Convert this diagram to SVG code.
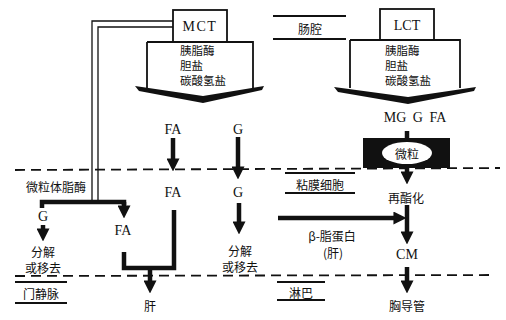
<svg xmlns="http://www.w3.org/2000/svg" width="506" height="320" viewBox="0 0 506 320">
<style>
text{font-family:"Liberation Serif","Noto Sans CJK SC",serif;fill:#111;text-anchor:middle;dominant-baseline:central}
.zh{font-family:"Noto Sans CJK SC","Liberation Serif",sans-serif;font-size:12px}
.st{font-size:11.5px;text-anchor:start}
.lt{font-size:14px}
.box{fill:#fff;stroke:#111;stroke-width:1.8}
.thin{stroke:#111;stroke-width:1.3;fill:none}
.rule{stroke:#111;stroke-width:1.8}
.dash{stroke:#111;stroke-width:1.8;stroke-dasharray:10 6}
.thick{stroke:#111;stroke-width:4.5;fill:none}
.arr{stroke:#111;stroke-width:4.5;fill:none;marker-end:url(#ah)}
</style>
<defs>
<marker id="ah" markerUnits="userSpaceOnUse" markerWidth="13" markerHeight="13" viewBox="0 0 12 12" refX="0.5" refY="6" orient="auto"><path d="M0,0 L12,6 L0,12 Z" fill="#111"/></marker>
</defs>

<g id="boundaries">
<line class="dash" x1="15" y1="170" x2="500" y2="168"/>
<line class="dash" x1="15" y1="276" x2="495" y2="275"/>
</g>

<g id="label-changqiang">
<line class="rule" x1="273" y1="16" x2="346" y2="16"/>
<text class="zh" x="310" y="28">肠腔</text>
<line class="rule" x1="273" y1="39" x2="346" y2="39"/>
</g>

<g id="label-nianmo">
<line class="rule" x1="285" y1="173" x2="355" y2="173"/>
<text class="zh" x="320" y="184">粘膜细胞</text>
<line class="rule" x1="285" y1="193" x2="355" y2="193"/>
</g>

<g id="label-menjingmai">
<line class="rule" x1="15" y1="282" x2="67" y2="282"/>
<text class="zh" x="41" y="293">门静脉</text>
<line class="rule" x1="15" y1="303" x2="67" y2="303"/>
</g>

<g id="label-linba">
<line class="rule" x1="277" y1="282" x2="325" y2="282"/>
<text class="zh" x="301" y="292">淋巴</text>
<line class="rule" x1="277" y1="300" x2="325" y2="300"/>
</g>

<g id="connectors">
<path class="thin" d="M174,21 H92 V200"/>
<path class="thin" d="M174,27 H98 V200"/>
<path class="thick" d="M42,208 V202 H124 V205"/>
<path class="arr" d="M124,202 V206"/>
<line class="arr" x1="173" y1="138" x2="173" y2="159"/>
<line class="arr" x1="238" y1="137" x2="238" y2="167"/>
<line class="arr" x1="43" y1="225" x2="43" y2="229"/>
<path class="thick" d="M174,210 V268 H124 V252"/>
<line class="arr" x1="150" y1="268" x2="150" y2="281"/>
<line class="arr" x1="239" y1="203" x2="239" y2="222"/>
<line class="thick" x1="407" y1="131" x2="407" y2="139"/>
<line class="arr" x1="407" y1="167" x2="407" y2="172"/>
<line class="arr" x1="407" y1="205" x2="407" y2="232"/>
<line class="arr" x1="278" y1="218" x2="394" y2="218"/>
<line class="arr" x1="407" y1="267" x2="407" y2="281"/>
</g>

<g id="mct">
<rect class="box" x="173" y="10" width="54" height="32"/>
<text class="lt" x="200" y="26" letter-spacing="1.5">MCT</text>
</g>

<g id="mct-enzymes">
<path class="box" d="M147,42 H253 V88 M147,42 V88"/>
<path d="M135,86 L203,96 L264,86 L262,90 L203,103 L139,91 Z" fill="#111"/>
<text class="zh st" x="180" y="50">胰脂酶</text>
<text class="zh st" x="180" y="65">胆盐</text>
<text class="zh st" x="180" y="80">碳酸氢盐</text>
</g>

<g id="lct">
<rect class="box" x="380" y="9" width="54" height="31"/>
<text class="lt" x="407" y="25">LCT</text>
</g>

<g id="lct-enzymes">
<path class="box" d="M350,40 H460 V88 M350,40 V88"/>
<path d="M334,87 L408,97 L476,87 L474,91 L408,104 L338,92 Z" fill="#111"/>
<text class="zh st" x="385" y="50">胰脂酶</text>
<text class="zh st" x="385" y="65">胆盐</text>
<text class="zh st" x="385" y="80">碳酸氢盐</text>
</g>

<g id="mg-g-fa"><text class="lt" x="415" y="117" word-spacing="3">MG G FA</text></g>

<g id="weili">
<rect x="363" y="138" width="87" height="30" fill="#111"/>
<ellipse cx="407" cy="153" rx="25" ry="11" fill="#fff"/>
<text class="zh" x="407" y="153">微粒</text>
</g>

<g id="fa-top"><text class="lt" x="173" y="129">FA</text></g>
<g id="g-top"><text class="lt" x="238" y="129">G</text></g>
<g id="fa-mid"><text class="lt" x="173" y="192">FA</text></g>
<g id="g-mid"><text class="lt" x="238" y="192">G</text></g>
<g id="weilitizhimei"><text class="zh" x="56" y="186">微粒体脂酶</text></g>
<g id="g-left"><text class="lt" x="43" y="216">G</text></g>
<g id="fa-left"><text class="lt" x="123" y="230">FA</text></g>
<g id="fenjie-left">
<text class="zh" x="43" y="251">分解</text>
<text class="zh" x="43" y="267">或移去</text>
</g>
<g id="fenjie-mid">
<text class="zh" x="240" y="250">分解</text>
<text class="zh" x="240" y="266">或移去</text>
</g>
<g id="gan"><text class="zh" x="150" y="305">肝</text></g>
<g id="zaizhihua"><text class="zh" x="406" y="197">再酯化</text></g>
<g id="beta">
<text class="zh" x="332" y="235">β-脂蛋白</text>
<text class="zh" x="333" y="252">(肝)</text>
</g>
<g id="cm"><text class="lt" x="407" y="254">CM</text></g>
<g id="xiongdaoguan"><text class="zh" x="407" y="305">胸导管</text></g>
</svg>
